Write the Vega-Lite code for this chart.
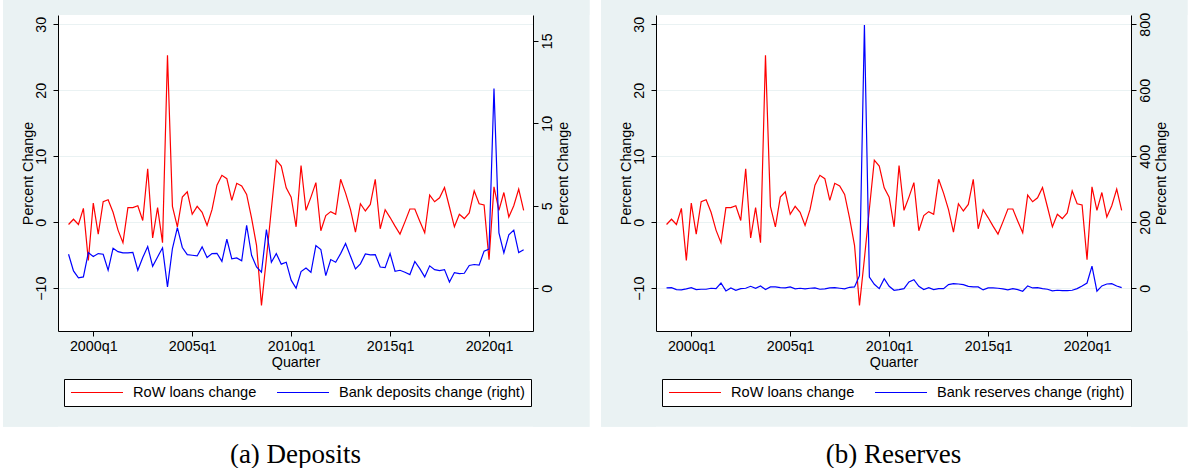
{
  "$schema": "https://vega.github.io/schema/vega-lite/v6.json",
  "background": "white",
  "padding": {"left": 3, "top": 0, "right": 0, "bottom": 0},
  "spacing": 11,
  "datasets": {
    "q": [
      {"t":1998.75,"loans":-0.35,"deposits":2.06,"reserves":1},
      {"t":1999.0,"loans":0.45,"deposits":1.05,"reserves":2},
      {"t":1999.25,"loans":-0.35,"deposits":0.63,"reserves":-4},
      {"t":1999.5,"loans":2.1,"deposits":0.69,"reserves":-5},
      {"t":1999.75,"loans":-5.8,"deposits":2.16,"reserves":-2},
      {"t":2000.0,"loans":2.9,"deposits":1.92,"reserves":2},
      {"t":2000.25,"loans":-1.8,"deposits":2.1,"reserves":-4},
      {"t":2000.5,"loans":3.1,"deposits":2.06,"reserves":-3},
      {"t":2000.75,"loans":3.4,"deposits":1.09,"reserves":-3},
      {"t":2001.0,"loans":1.5,"deposits":2.43,"reserves":0},
      {"t":2001.25,"loans":-1.2,"deposits":2.22,"reserves":-1},
      {"t":2001.5,"loans":-3.1,"deposits":2.14,"reserves":16},
      {"t":2001.75,"loans":2.2,"deposits":2.14,"reserves":-8},
      {"t":2002.0,"loans":2.2,"deposits":2.18,"reserves":1},
      {"t":2002.25,"loans":2.5,"deposits":1.09,"reserves":-6},
      {"t":2002.5,"loans":0.25,"deposits":1.86,"reserves":-1},
      {"t":2002.75,"loans":8.1,"deposits":2.53,"reserves":0},
      {"t":2003.0,"loans":-2.4,"deposits":1.33,"reserves":6},
      {"t":2003.25,"loans":2.2,"deposits":1.9,"reserves":0},
      {"t":2003.5,"loans":-3.1,"deposits":2.45,"reserves":7},
      {"t":2003.75,"loans":25.3,"deposits":0.08,"reserves":-4},
      {"t":2004.0,"loans":2.4,"deposits":2.41,"reserves":4},
      {"t":2004.25,"loans":-0.7,"deposits":3.68,"reserves":4},
      {"t":2004.5,"loans":3.8,"deposits":2.47,"reserves":2},
      {"t":2004.75,"loans":4.6,"deposits":2.04,"reserves":1},
      {"t":2005.0,"loans":1.2,"deposits":2.0,"reserves":4},
      {"t":2005.25,"loans":2.4,"deposits":1.96,"reserves":-2},
      {"t":2005.5,"loans":1.5,"deposits":2.51,"reserves":0},
      {"t":2005.75,"loans":-0.5,"deposits":1.86,"reserves":-2},
      {"t":2006.0,"loans":1.9,"deposits":2.1,"reserves":0},
      {"t":2006.25,"loans":5.6,"deposits":2.12,"reserves":1},
      {"t":2006.5,"loans":7.1,"deposits":1.63,"reserves":-3},
      {"t":2006.75,"loans":6.6,"deposits":2.97,"reserves":-2},
      {"t":2007.0,"loans":3.3,"deposits":1.78,"reserves":1},
      {"t":2007.25,"loans":5.9,"deposits":1.84,"reserves":2},
      {"t":2007.5,"loans":5.5,"deposits":1.66,"reserves":0},
      {"t":2007.75,"loans":4.2,"deposits":3.82,"reserves":-2},
      {"t":2008.0,"loans":0.6,"deposits":2.0,"reserves":3},
      {"t":2008.25,"loans":-3.5,"deposits":1.29,"reserves":4},
      {"t":2008.5,"loans":-12.6,"deposits":0.97,"reserves":38},
      {"t":2008.75,"loans":-5.5,"deposits":3.56,"reserves":798},
      {"t":2009.0,"loans":2.0,"deposits":1.58,"reserves":34},
      {"t":2009.25,"loans":9.4,"deposits":2.1,"reserves":12},
      {"t":2009.5,"loans":8.5,"deposits":1.46,"reserves":-1},
      {"t":2009.75,"loans":5.2,"deposits":1.58,"reserves":29},
      {"t":2010.0,"loans":3.8,"deposits":0.49,"reserves":6},
      {"t":2010.25,"loans":-0.7,"deposits":0.0,"reserves":-6},
      {"t":2010.5,"loans":8.6,"deposits":1.01,"reserves":-4},
      {"t":2010.75,"loans":1.8,"deposits":1.23,"reserves":-1},
      {"t":2011.0,"loans":3.8,"deposits":0.97,"reserves":19},
      {"t":2011.25,"loans":6.0,"deposits":2.59,"reserves":26},
      {"t":2011.5,"loans":-1.3,"deposits":2.35,"reserves":6},
      {"t":2011.75,"loans":1.0,"deposits":0.77,"reserves":-4},
      {"t":2012.0,"loans":1.6,"deposits":1.74,"reserves":2},
      {"t":2012.25,"loans":1.2,"deposits":1.58,"reserves":-4},
      {"t":2012.5,"loans":6.5,"deposits":2.1,"reserves":-1},
      {"t":2012.75,"loans":4.4,"deposits":2.71,"reserves":-1},
      {"t":2013.0,"loans":1.9,"deposits":1.94,"reserves":11},
      {"t":2013.25,"loans":-1.5,"deposits":1.17,"reserves":14},
      {"t":2013.5,"loans":2.8,"deposits":1.48,"reserves":13},
      {"t":2013.75,"loans":1.7,"deposits":2.08,"reserves":11},
      {"t":2014.0,"loans":2.7,"deposits":2.02,"reserves":6},
      {"t":2014.25,"loans":6.5,"deposits":2.04,"reserves":4},
      {"t":2014.5,"loans":-1.0,"deposits":1.29,"reserves":4},
      {"t":2014.75,"loans":1.9,"deposits":1.25,"reserves":-5},
      {"t":2015.0,"loans":0.7,"deposits":2.1,"reserves":1},
      {"t":2015.25,"loans":-0.6,"deposits":1.03,"reserves":1},
      {"t":2015.5,"loans":-1.8,"deposits":1.09,"reserves":0},
      {"t":2015.75,"loans":0.05,"deposits":0.97,"reserves":-2},
      {"t":2016.0,"loans":2.0,"deposits":0.83,"reserves":-5},
      {"t":2016.25,"loans":2.0,"deposits":1.62,"reserves":-1},
      {"t":2016.5,"loans":0.15,"deposits":1.19,"reserves":-4},
      {"t":2016.75,"loans":-1.6,"deposits":0.69,"reserves":-9},
      {"t":2017.0,"loans":4.1,"deposits":1.36,"reserves":7},
      {"t":2017.25,"loans":3.1,"deposits":1.13,"reserves":1},
      {"t":2017.5,"loans":3.7,"deposits":1.07,"reserves":2},
      {"t":2017.75,"loans":5.25,"deposits":1.13,"reserves":-1},
      {"t":2018.0,"loans":2.3,"deposits":0.38,"reserves":-3},
      {"t":2018.25,"loans":-0.7,"deposits":0.95,"reserves":-8},
      {"t":2018.5,"loans":1.2,"deposits":0.89,"reserves":-6},
      {"t":2018.75,"loans":0.55,"deposits":0.91,"reserves":-7},
      {"t":2019.0,"loans":1.4,"deposits":1.38,"reserves":-7},
      {"t":2019.25,"loans":4.75,"deposits":1.44,"reserves":-6},
      {"t":2019.5,"loans":2.8,"deposits":1.4,"reserves":-1},
      {"t":2019.75,"loans":2.6,"deposits":2.25,"reserves":7},
      {"t":2020.0,"loans":-5.7,"deposits":2.37,"reserves":16},
      {"t":2020.25,"loans":5.35,"deposits":12.1,"reserves":67},
      {"t":2020.5,"loans":1.8,"deposits":3.36,"reserves":-9},
      {"t":2020.75,"loans":4.5,"deposits":2.14,"reserves":7},
      {"t":2021.0,"loans":0.8,"deposits":3.24,"reserves":13},
      {"t":2021.25,"loans":2.5,"deposits":3.52,"reserves":14},
      {"t":2021.5,"loans":5.0,"deposits":2.16,"reserves":7},
      {"t":2021.75,"loans":1.8,"deposits":2.33,"reserves":2}
    ]
  },
  "hconcat": [
    {
      "width": 475,
      "height": 316,
      "title": {"text": "(a) Deposits", "orient": "bottom", "offset": 15},
      "resolve": {"scale": {"y": "independent"}},
      "layer": [
        {
          "data": {"values": [{}]},
          "mark": {"type": "rect", "fill": "#EAF2F3", "strokeWidth": 0},
          "encoding": {
            "x": {"datum": 1995.438, "type": "quantitative", "scale": {"domain": [1998.217, 2022.222], "nice": false, "zero": false}, "axis": {"values": [2000, 2005, 2010, 2015, 2020], "labelExpr": "datum.value + 'q1'", "title": "Quarter", "tickSize": 5, "labelPadding": 3, "titlePadding": 2, "grid": false, "zindex": 1, "labelFlush": false}},
            "x2": {"datum": 1998.217},
            "y": {"datum": 33.673, "type": "quantitative", "scale": {"domain": [-16.49, 31.40], "nice": false, "zero": false}, "axis": {"orient": "left", "values": [-10, 0, 10, 20, 30], "grid": true, "gridColor": "#EAF2F3", "gridWidth": 1, "labels": false, "ticks": false, "domain": false, "title": null, "zindex": 0}},
            "y2": {"datum": -31.0}
          }
        },
        {
          "data": {"values": [{}]},
          "mark": {"type": "rect", "fill": "#EAF2F3", "strokeWidth": 0},
          "encoding": {
            "x": {"datum": 2022.222, "type": "quantitative", "scale": {"domain": [1998.217, 2022.222], "nice": false, "zero": false}, "axis": {"values": [2000, 2005, 2010, 2015, 2020], "labelExpr": "datum.value + 'q1'", "title": "Quarter", "tickSize": 5, "labelPadding": 3, "titlePadding": 2, "grid": false, "zindex": 1, "labelFlush": false}},
            "x2": {"datum": 2025.077},
            "y": {"datum": 33.673, "type": "quantitative", "scale": {"domain": [-16.49, 31.40], "nice": false, "zero": false}, "axis": null},
            "y2": {"datum": -31.0}
          }
        },
        {
          "data": {"values": [{}]},
          "mark": {"type": "rect", "fill": "#EAF2F3", "strokeWidth": 0},
          "encoding": {
            "x": {"datum": 1995.438, "type": "quantitative", "scale": {"domain": [1998.217, 2022.222], "nice": false, "zero": false}, "axis": {"values": [2000, 2005, 2010, 2015, 2020], "labelExpr": "datum.value + 'q1'", "title": "Quarter", "tickSize": 5, "labelPadding": 3, "titlePadding": 2, "grid": false, "zindex": 1, "labelFlush": false}},
            "x2": {"datum": 2025.077},
            "y": {"datum": 33.673, "type": "quantitative", "scale": {"domain": [-16.49, 31.40], "nice": false, "zero": false}, "axis": null},
            "y2": {"datum": 31.40}
          }
        },
        {
          "data": {"values": [{}]},
          "mark": {"type": "rect", "fill": "#EAF2F3", "strokeWidth": 0},
          "encoding": {
            "x": {"datum": 1995.438, "type": "quantitative", "scale": {"domain": [1998.217, 2022.222], "nice": false, "zero": false}, "axis": {"values": [2000, 2005, 2010, 2015, 2020], "labelExpr": "datum.value + 'q1'", "title": "Quarter", "tickSize": 5, "labelPadding": 3, "titlePadding": 2, "grid": false, "zindex": 1, "labelFlush": false}},
            "x2": {"datum": 2025.077},
            "y": {"datum": -16.49, "type": "quantitative", "scale": {"domain": [-16.49, 31.40], "nice": false, "zero": false}, "axis": null},
            "y2": {"datum": -31.0}
          }
        },
        {
          "data": {"name": "q"},
          "mark": {"type": "line", "strokeWidth": 1.2},
          "encoding": {
            "x": {"field": "t", "type": "quantitative", "scale": {"domain": [1998.217, 2022.222], "nice": false, "zero": false}, "axis": {"values": [2000, 2005, 2010, 2015, 2020], "labelExpr": "datum.value + 'q1'", "title": "Quarter", "tickSize": 5, "labelPadding": 3, "titlePadding": 2, "grid": false, "zindex": 1, "labelFlush": false}},
            "y": {"field": "loans", "type": "quantitative", "scale": {"domain": [-16.49, 31.40], "nice": false, "zero": false}, "axis": {"orient": "left", "values": [-10, 0, 10, 20, 30], "title": "Percent Change", "grid": false, "labelAngle": 270, "labelAlign": "center", "labelBaseline": "bottom", "labelPadding": 5, "tickSize": 5, "titlePadding": -1, "zindex": 1}},
            "color": {"datum": "RoW loans change", "type": "nominal", "scale": {"domain": ["RoW loans change", "Bank deposits change (right)"], "range": ["#ff0000", "#0000ff"]}, "legend": {"orient": "none", "legendX": 6, "legendY": 364, "direction": "horizontal", "title": null}}
          }
        },
        {
          "data": {"name": "q"},
          "mark": {"type": "line", "strokeWidth": 1.2},
          "encoding": {
            "x": {"field": "t", "type": "quantitative", "scale": {"domain": [1998.217, 2022.222], "nice": false, "zero": false}, "axis": {"values": [2000, 2005, 2010, 2015, 2020], "labelExpr": "datum.value + 'q1'", "title": "Quarter", "tickSize": 5, "labelPadding": 3, "titlePadding": 2, "grid": false, "zindex": 1, "labelFlush": false}},
            "y": {"field": "deposits", "type": "quantitative", "scale": {"domain": [-2.59, 16.56], "nice": false, "zero": false}, "axis": {"orient": "right", "values": [0, 5, 10, 15], "title": "Percent Change", "grid": false, "labelAngle": 270, "labelAlign": "center", "labelBaseline": "top", "labelPadding": 2.5, "tickSize": 5, "titleAngle": 270, "titleBaseline": "top", "titlePadding": 2, "zindex": 1}},
            "color": {"datum": "Bank deposits change (right)", "type": "nominal", "scale": {"domain": ["RoW loans change", "Bank deposits change (right)"], "range": ["#ff0000", "#0000ff"]}, "legend": {"orient": "none", "legendX": 6, "legendY": 364, "direction": "horizontal", "title": null}}
          }
        }
      ]
    },
    {
      "width": 475,
      "height": 316,
      "title": {"text": "(b) Reserves", "orient": "bottom", "offset": 15},
      "resolve": {"scale": {"y": "independent"}},
      "layer": [
        {
          "data": {"values": [{}]},
          "mark": {"type": "rect", "fill": "#EAF2F3", "strokeWidth": 0},
          "encoding": {
            "x": {"datum": 1995.438, "type": "quantitative", "scale": {"domain": [1998.217, 2022.222], "nice": false, "zero": false}, "axis": {"values": [2000, 2005, 2010, 2015, 2020], "labelExpr": "datum.value + 'q1'", "title": "Quarter", "tickSize": 5, "labelPadding": 3, "titlePadding": 2, "grid": false, "zindex": 1, "labelFlush": false}},
            "x2": {"datum": 1998.217},
            "y": {"datum": 33.673, "type": "quantitative", "scale": {"domain": [-16.49, 31.40], "nice": false, "zero": false}, "axis": {"orient": "left", "values": [-10, 0, 10, 20, 30], "grid": true, "gridColor": "#EAF2F3", "gridWidth": 1, "labels": false, "ticks": false, "domain": false, "title": null, "zindex": 0}},
            "y2": {"datum": -31.0}
          }
        },
        {
          "data": {"values": [{}]},
          "mark": {"type": "rect", "fill": "#EAF2F3", "strokeWidth": 0},
          "encoding": {
            "x": {"datum": 2022.222, "type": "quantitative", "scale": {"domain": [1998.217, 2022.222], "nice": false, "zero": false}, "axis": {"values": [2000, 2005, 2010, 2015, 2020], "labelExpr": "datum.value + 'q1'", "title": "Quarter", "tickSize": 5, "labelPadding": 3, "titlePadding": 2, "grid": false, "zindex": 1, "labelFlush": false}},
            "x2": {"datum": 2025.077},
            "y": {"datum": 33.673, "type": "quantitative", "scale": {"domain": [-16.49, 31.40], "nice": false, "zero": false}, "axis": null},
            "y2": {"datum": -31.0}
          }
        },
        {
          "data": {"values": [{}]},
          "mark": {"type": "rect", "fill": "#EAF2F3", "strokeWidth": 0},
          "encoding": {
            "x": {"datum": 1995.438, "type": "quantitative", "scale": {"domain": [1998.217, 2022.222], "nice": false, "zero": false}, "axis": {"values": [2000, 2005, 2010, 2015, 2020], "labelExpr": "datum.value + 'q1'", "title": "Quarter", "tickSize": 5, "labelPadding": 3, "titlePadding": 2, "grid": false, "zindex": 1, "labelFlush": false}},
            "x2": {"datum": 2025.077},
            "y": {"datum": 33.673, "type": "quantitative", "scale": {"domain": [-16.49, 31.40], "nice": false, "zero": false}, "axis": null},
            "y2": {"datum": 31.40}
          }
        },
        {
          "data": {"values": [{}]},
          "mark": {"type": "rect", "fill": "#EAF2F3", "strokeWidth": 0},
          "encoding": {
            "x": {"datum": 1995.438, "type": "quantitative", "scale": {"domain": [1998.217, 2022.222], "nice": false, "zero": false}, "axis": {"values": [2000, 2005, 2010, 2015, 2020], "labelExpr": "datum.value + 'q1'", "title": "Quarter", "tickSize": 5, "labelPadding": 3, "titlePadding": 2, "grid": false, "zindex": 1, "labelFlush": false}},
            "x2": {"datum": 2025.077},
            "y": {"datum": -16.49, "type": "quantitative", "scale": {"domain": [-16.49, 31.40], "nice": false, "zero": false}, "axis": null},
            "y2": {"datum": -31.0}
          }
        },
        {
          "data": {"name": "q"},
          "mark": {"type": "line", "strokeWidth": 1.2},
          "encoding": {
            "x": {"field": "t", "type": "quantitative", "scale": {"domain": [1998.217, 2022.222], "nice": false, "zero": false}, "axis": {"values": [2000, 2005, 2010, 2015, 2020], "labelExpr": "datum.value + 'q1'", "title": "Quarter", "tickSize": 5, "labelPadding": 3, "titlePadding": 2, "grid": false, "zindex": 1, "labelFlush": false}},
            "y": {"field": "loans", "type": "quantitative", "scale": {"domain": [-16.49, 31.40], "nice": false, "zero": false}, "axis": {"orient": "left", "values": [-10, 0, 10, 20, 30], "title": "Percent Change", "grid": false, "labelAngle": 270, "labelAlign": "center", "labelBaseline": "bottom", "labelPadding": 5, "tickSize": 5, "titlePadding": -1, "zindex": 1}},
            "color": {"datum": "RoW loans change", "type": "nominal", "scale": {"domain": ["RoW loans change", "Bank reserves change (right)"], "range": ["#ff0000", "#0000ff"]}, "legend": {"orient": "none", "legendX": 6, "legendY": 364, "direction": "horizontal", "title": null}}
          }
        },
        {
          "data": {"name": "q"},
          "mark": {"type": "line", "strokeWidth": 1.2},
          "encoding": {
            "x": {"field": "t", "type": "quantitative", "scale": {"domain": [1998.217, 2022.222], "nice": false, "zero": false}, "axis": {"values": [2000, 2005, 2010, 2015, 2020], "labelExpr": "datum.value + 'q1'", "title": "Quarter", "tickSize": 5, "labelPadding": 3, "titlePadding": 2, "grid": false, "zindex": 1, "labelFlush": false}},
            "y": {"field": "reserves", "type": "quantitative", "scale": {"domain": [-129.5, 828.2], "nice": false, "zero": false}, "axis": {"orient": "right", "values": [0, 200, 400, 600, 800], "title": "Percent Change", "grid": false, "labelAngle": 270, "labelAlign": "center", "labelBaseline": "top", "labelPadding": 2.5, "tickSize": 5, "titleAngle": 270, "titleBaseline": "top", "titlePadding": 2, "zindex": 1}},
            "color": {"datum": "Bank reserves change (right)", "type": "nominal", "scale": {"domain": ["RoW loans change", "Bank reserves change (right)"], "range": ["#ff0000", "#0000ff"]}, "legend": {"orient": "none", "legendX": 6, "legendY": 364, "direction": "horizontal", "title": null}}
          }
        }
      ]
    }
  ],
  "resolve": {"scale": {"x": "independent", "y": "independent", "color": "independent"}, "legend": {"color": "independent"}},
  "config": {
    "view": {"stroke": null},
    "axis": {
      "labelFont": "Liberation Sans", "titleFont": "Liberation Sans",
      "labelFontSize": 14.3, "titleFontSize": 14.3, "titleFontWeight": "normal",
      "labelColor": "#000000", "titleColor": "#000000",
      "domainColor": "#000000", "tickColor": "#000000", "domainWidth": 1, "tickWidth": 1
    },
    "legend": {
      "symbolType": "stroke", "symbolSize": 2704, "symbolStrokeWidth": 1.2,
      "clipHeight": 15, "labelOffset": 9, "columnPadding": 19, "padding": 6,
      "strokeColor": "#000000", "fillColor": "#ffffff",
      "labelFont": "Liberation Sans", "labelFontSize": 14.6, "labelColor": "#000000", "labelLimit": 400
    },
    "title": {"font": "Liberation Serif", "fontSize": 27, "fontWeight": "normal", "color": "#000000"}
  }
}
